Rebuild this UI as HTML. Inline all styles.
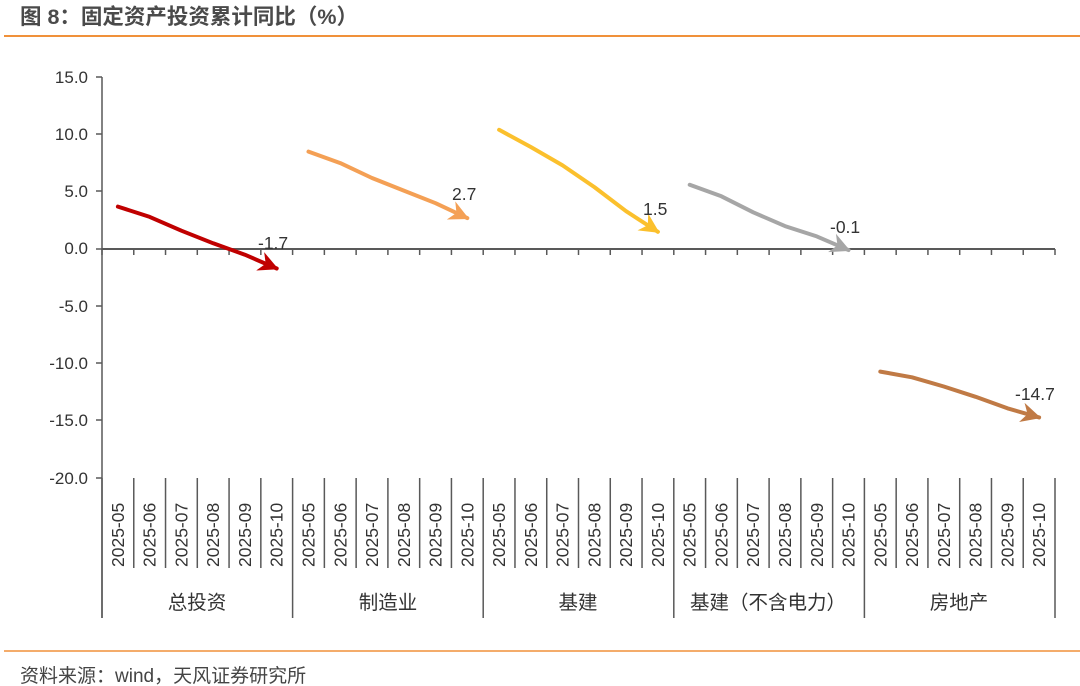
<!DOCTYPE html>
<html><head><meta charset="utf-8"><style>
body{margin:0;background:#fff;}
svg{display:block;font-family:"Liberation Sans","Noto Sans CJK SC",sans-serif;}
</style></head><body>
<svg width="1080" height="686" viewBox="0 0 1080 686">
<defs>
<marker id="m1" viewBox="0 0 10 10" refX="9" refY="5" markerWidth="5" markerHeight="5" orient="auto" markerUnits="strokeWidth"><path d="M0,0 L10,5 L0,10 L3,5 Z" fill="#C00000"/></marker>
<marker id="m2" viewBox="0 0 10 10" refX="9" refY="5" markerWidth="5" markerHeight="5" orient="auto" markerUnits="strokeWidth"><path d="M0,0 L10,5 L0,10 L3,5 Z" fill="#F4A055"/></marker>
<marker id="m3" viewBox="0 0 10 10" refX="9" refY="5" markerWidth="5" markerHeight="5" orient="auto" markerUnits="strokeWidth"><path d="M0,0 L10,5 L0,10 L3,5 Z" fill="#FBC02D"/></marker>
<marker id="m4" viewBox="0 0 10 10" refX="9" refY="5" markerWidth="5" markerHeight="5" orient="auto" markerUnits="strokeWidth"><path d="M0,0 L10,5 L0,10 L3,5 Z" fill="#A6A6A6"/></marker>
<marker id="m5" viewBox="0 0 10 10" refX="9" refY="5" markerWidth="5" markerHeight="5" orient="auto" markerUnits="strokeWidth"><path d="M0,0 L10,5 L0,10 L3,5 Z" fill="#C07A45"/></marker>
</defs>
<text x="20" y="24" font-size="21.5" font-weight="bold" fill="#4a4a4a">图 8：固定资产投资累计同比（%）</text>
<line x1="4" y1="36" x2="1080" y2="36" stroke="#F0913A" stroke-width="2"/>
<line x1="4" y1="651" x2="1080" y2="651" stroke="#F0913A" stroke-width="1.5"/>
<text x="20" y="682" font-size="19" fill="#444">资料来源：wind，天风证券研究所</text>
<g font-size="17" fill="#333" text-anchor="end">
<text x="88" y="83">15.0</text><text x="88" y="140">10.0</text><text x="88" y="197">5.0</text>
<text x="88" y="254">0.0</text><text x="88" y="312">-5.0</text><text x="88" y="369">-10.0</text>
<text x="88" y="426">-15.0</text><text x="88" y="484">-20.0</text>
</g>
<g stroke="#595959" stroke-width="1.5">
<line x1="102" y1="77" x2="102" y2="618"/>
<line x1="96" y1="77" x2="102" y2="77"/><line x1="96" y1="134" x2="102" y2="134"/><line x1="96" y1="191" x2="102" y2="191"/><line x1="96" y1="249" x2="102" y2="249"/><line x1="96" y1="306" x2="102" y2="306"/><line x1="96" y1="363" x2="102" y2="363"/><line x1="96" y1="420" x2="102" y2="420"/><line x1="96" y1="478" x2="102" y2="478"/>
<line x1="102" y1="249" x2="1055" y2="249" stroke-width="2"/>
</g>
<g id="ticks" stroke="#595959" stroke-width="1.5"></g>
<g id="xl" font-size="17.5" fill="#333"></g>
<g font-size="19.5" fill="#333" text-anchor="middle">
<text x="197" y="609">总投资</text><text x="388" y="609">制造业</text><text x="578" y="609">基建</text><text x="768" y="609">基建（不含电力）</text><text x="959" y="609">房地产</text>
</g>
<g id="lines" fill="none" stroke-width="4" stroke-linecap="round" stroke-linejoin="round"></g>
<g font-size="17.5" fill="#333">
<text x="258" y="249">-1.7</text><text x="452" y="200">2.7</text><text x="643" y="215">1.5</text><text x="830" y="233">-0.1</text><text x="1015" y="400">-14.7</text>
</g>
</svg>
<script>
var ns="http://www.w3.org/2000/svg",cw=(1055-102)/30;
function Y(v){return 249-v*11.457;}
var t=document.getElementById("ticks"),xl=document.getElementById("xl");
var months=["05","06","07","08","09","10"];
for(var i=0;i<=30;i++){var x=102+i*cw;
 var l=document.createElementNS(ns,"line");l.setAttribute("x1",x);l.setAttribute("x2",x);
 l.setAttribute("y1",478);l.setAttribute("y2",i%6==0?618:568);t.appendChild(l);
 var s=document.createElementNS(ns,"line");s.setAttribute("x1",x);s.setAttribute("x2",x);s.setAttribute("y1",249);s.setAttribute("y2",255);t.appendChild(s);
 if(i<30){var tx=document.createElementNS(ns,"text");var cx=x+cw/2+6;
 tx.setAttribute("transform","translate("+cx+",567) rotate(-90)");tx.textContent="2025-"+months[i%6];xl.appendChild(tx);}}
var data=[[3.7,2.8,1.6,0.5,-0.5,-1.7,"#C00000"],[8.5,7.5,6.2,5.1,4.0,2.7,"#F4A055"],[10.4,8.9,7.3,5.4,3.3,1.5,"#FBC02D"],[5.6,4.6,3.2,2.0,1.1,-0.1,"#A6A6A6"],[-10.7,-11.2,-12.0,-12.9,-13.9,-14.7,"#C07A45"]];
var g=document.getElementById("lines");
data.forEach(function(d,k){var p="";for(var j=0;j<6;j++){var x=102+(k*6+j+0.5)*cw;p+=(j?"L":"M")+x.toFixed(1)+","+Y(d[j]).toFixed(1);}
 var e=document.createElementNS(ns,"path");e.setAttribute("d",p);e.setAttribute("stroke",d[6]);e.setAttribute("marker-end","url(#m"+(k+1)+")");g.appendChild(e);});
</script>
</body></html>
